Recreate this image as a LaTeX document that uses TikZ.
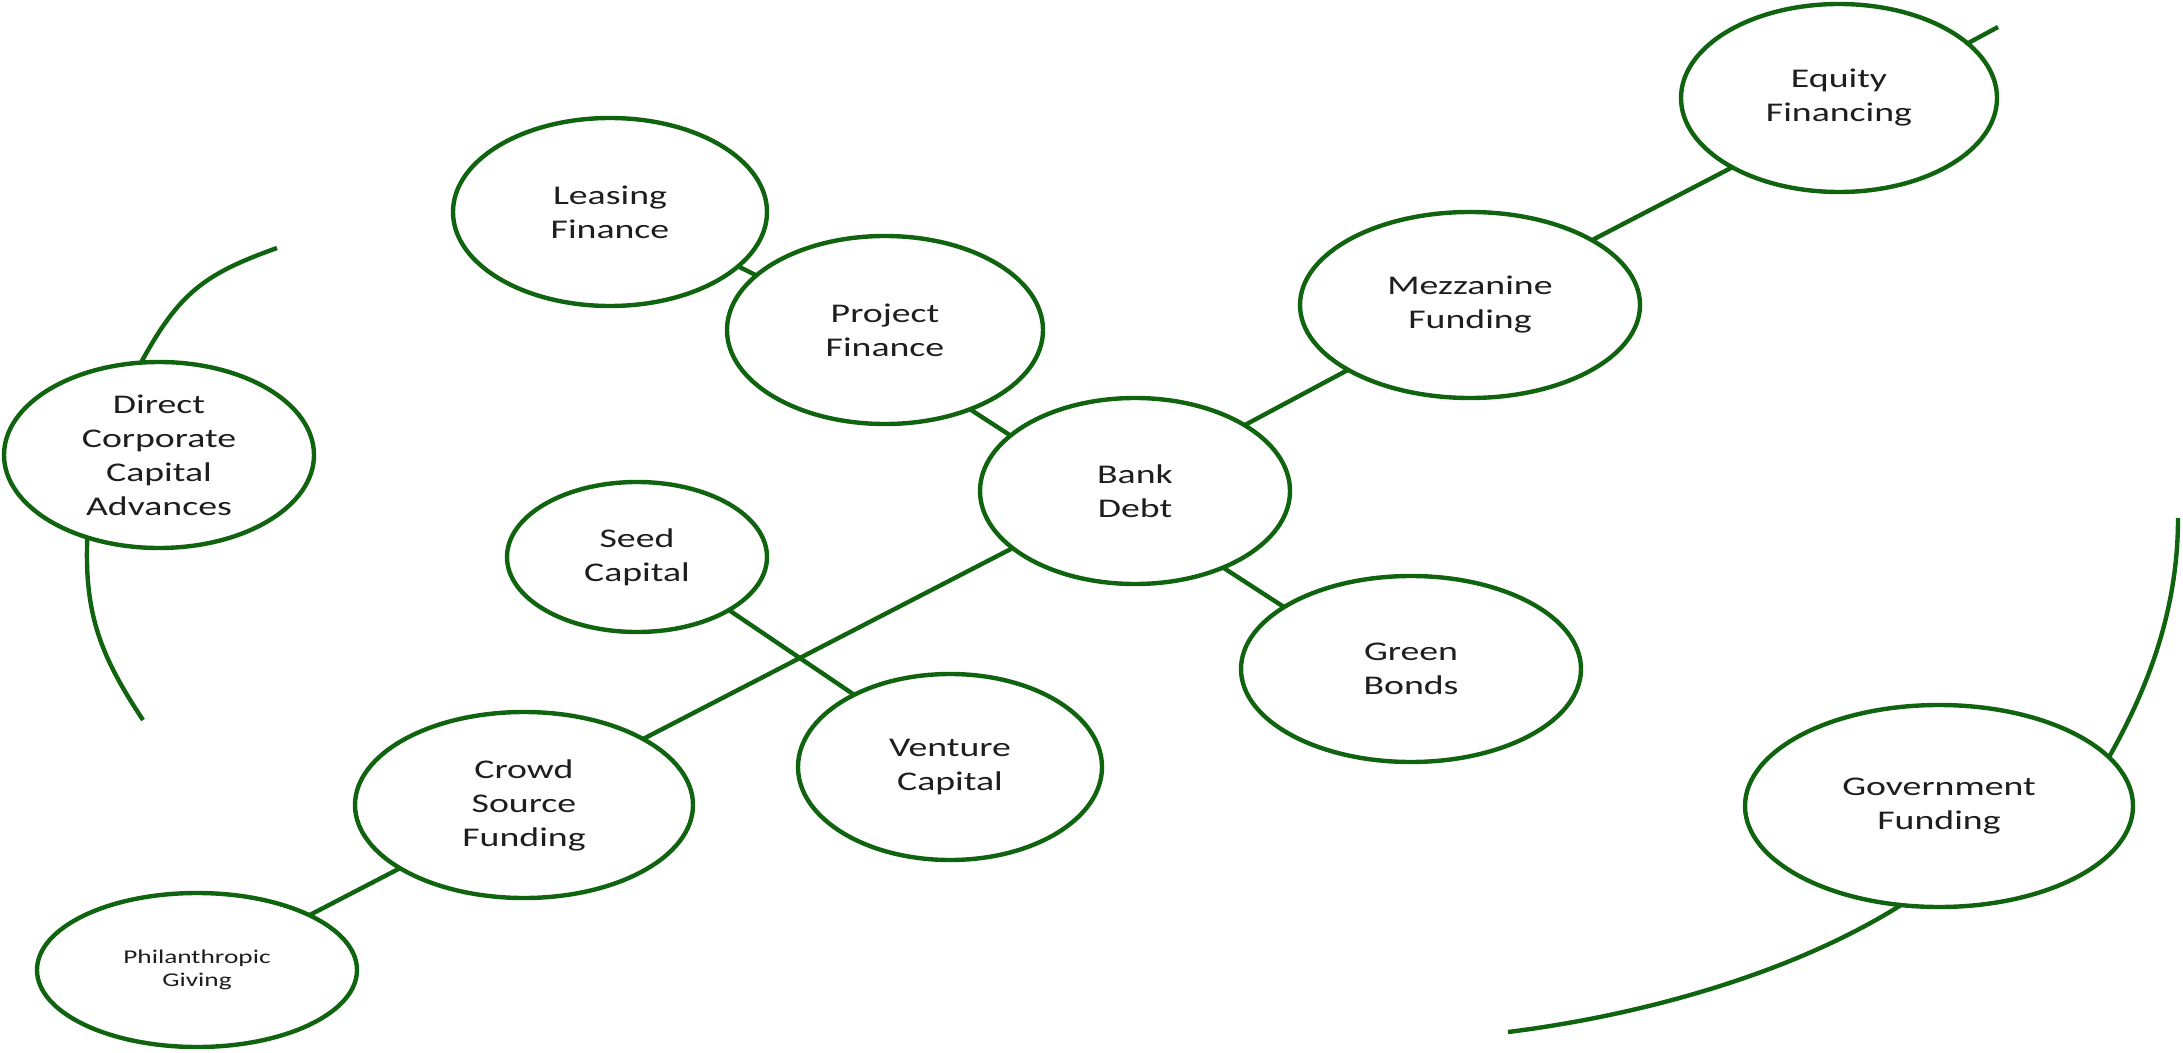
\documentclass[tikz,border=0pt]{standalone}
\usepackage{fontspec}
\usetikzlibrary{shapes.geometric}
\newfontfamily\bubfont[FakeStretch=1.4]{Carlito}
\definecolor{dgreen}{RGB}{16,100,16}
\definecolor{txt}{RGB}{30,30,30}
\begin{document}
\begin{tikzpicture}[x=0.5pt,y=-0.5pt,
  bub/.style 2 args={ellipse, draw=dgreen, line width=2.2pt, fill=white,
    inner sep=0pt, outer sep=0pt, minimum width=#1*0.5pt, minimum height=#2*0.5pt,
    align=center, text=txt, font=\bubfont\fontsize{13.5}{17}\selectfont},
  link/.style={draw=dgreen, line width=2.2pt}]
\useasboundingbox[fill=white] (0,0) rectangle (2183,1053);

\node[bub={316}{188}] (equity)  at (1839,98)  {Equity\\Financing};
\node[bub={314}{188}] (leasing) at (610,212)  {Leasing\\Finance};
\node[bub={316}{188}] (project) at (885,330)  {Project\\Finance};
\node[bub={340}{186}] (mezz)    at (1470,305) {Mezzanine\\Funding};
\node[bub={310}{186}] (direct)  at (159,455)  {Direct\\Corporate\\Capital\\Advances};
\node[bub={310}{186}] (bank)    at (1135,491) {Bank\\Debt};
\node[bub={260}{150}] (seed)    at (637,557)  {Seed\\Capital};
\node[bub={340}{186}] (green)   at (1411,669) {Green\\Bonds};
\node[bub={304}{186}] (venture) at (950,767)  {Venture\\Capital};
\node[bub={338}{186}] (crowd)   at (524,805)  {Crowd\\Source\\Funding};
\node[bub={388}{202}] (gov)     at (1939,806) {Government\\Funding};
\node[bub={320}{154}, font=\bubfont\fontsize{9.75}{11.5}\selectfont] (phil) at (197,970) {Philanthropic\\Giving};

\coordinate (eqend)  at (1998,27);
\coordinate (dtop)   at (277,248);
\coordinate (dbot)   at (143,720);
\coordinate (govtop) at (2178,518);
\coordinate (govbot) at (1508,1032);

\draw[link] (leasing.-23) -- (project.157);
\draw[link] (project.-43) -- (bank.156);
\draw[link] (bank.31) -- (mezz.208);
\draw[link] (mezz.28) -- (equity.213);
\draw[link] (equity.23) -- (eqend);
\draw[link] (bank.-41) -- (green.154);
\draw[link] (bank.205) -- (crowd.29);
\draw[link] (seed.-30) -- (venture.143);
\draw[link] (crowd.207) -- (phil.26);

\draw[link] (direct.101) .. controls (179,293) and (204,274) .. (dtop);
\draw[link] (direct.229) .. controls (84,616) and (102,658) .. (dbot);
\draw[link] (gov.16) .. controls (2148,688) and (2178,610) .. (govtop);
\draw[link] (gov.249) .. controls (1790,975) and (1637,1016) .. (govbot);
\end{tikzpicture}
\end{document}
